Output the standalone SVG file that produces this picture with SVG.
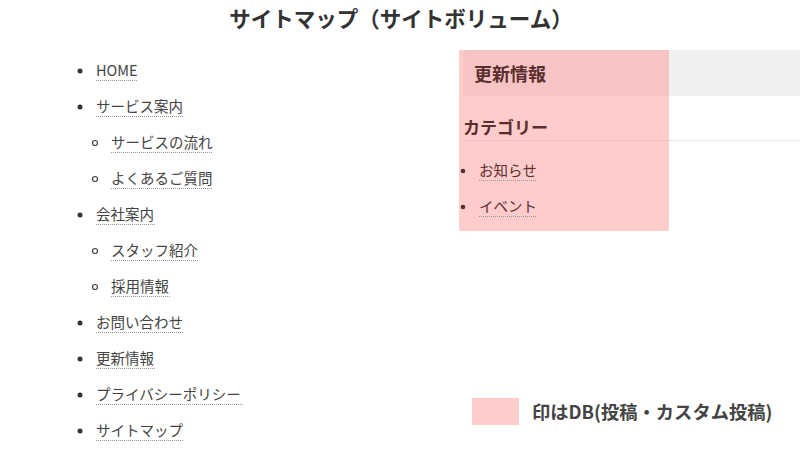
<svg xmlns="http://www.w3.org/2000/svg" width="800" height="450" viewBox="0 0 800 450">
<style>
text{font-family:"Noto Sans CJK JP","Noto Sans",sans-serif;}
.title{font-size:21.5px;font-weight:bold;fill:#333;}
.li{font-size:14.5px;fill:#444;}
.ul{stroke:#999;stroke-width:1;stroke-dasharray:1 1;}
.dot{fill:#333;}
.circ{fill:none;stroke:#444;stroke-width:1.2;}
.rh{font-weight:bold;fill:#5a2e2e;}
.rl{font-size:14.5px;fill:#5a2e2e;}
.leg{font-size:18.3px;font-weight:bold;fill:#444;}
</style>
<rect width="800" height="450" fill="#fff"/>
<text class="title" x="401" y="27" text-anchor="middle">サイトマップ（サイトボリューム）</text>

<g id="sitemap-list">
<g id="item-home"><circle class="dot" cx="80" cy="71" r="2.5"/><text class="li" x="96" y="76">HOME</text><line class="ul" x1="96" y1="80.5" x2="138" y2="80.5"/></g>
<g id="item-service"><circle class="dot" cx="80" cy="107" r="2.5"/><text class="li" x="96" y="112">サービス案内</text><line class="ul" x1="96" y1="116.5" x2="184" y2="116.5"/></g>
<g id="item-flow"><circle class="circ" cx="95" cy="143" r="2.5"/><text class="li" x="111" y="148">サービスの流れ</text><line class="ul" x1="111" y1="152.5" x2="213" y2="152.5"/></g>
<g id="item-faq"><circle class="circ" cx="95" cy="179" r="2.5"/><text class="li" x="111" y="184">よくあるご質問</text><line class="ul" x1="111" y1="188.5" x2="213" y2="188.5"/></g>
<g id="item-company"><circle class="dot" cx="80" cy="215" r="2.5"/><text class="li" x="96" y="220">会社案内</text><line class="ul" x1="96" y1="224.5" x2="155" y2="224.5"/></g>
<g id="item-staff"><circle class="circ" cx="95" cy="251" r="2.5"/><text class="li" x="111" y="256">スタッフ紹介</text><line class="ul" x1="111" y1="260.5" x2="198" y2="260.5"/></g>
<g id="item-recruit"><circle class="circ" cx="95" cy="287" r="2.5"/><text class="li" x="111" y="292">採用情報</text><line class="ul" x1="111" y1="296.5" x2="170" y2="296.5"/></g>
<g id="item-contact"><circle class="dot" cx="80" cy="323" r="2.5"/><text class="li" x="96" y="328">お問い合わせ</text><line class="ul" x1="96" y1="332.5" x2="184" y2="332.5"/></g>
<g id="item-news"><circle class="dot" cx="80" cy="359" r="2.5"/><text class="li" x="96" y="364">更新情報</text><line class="ul" x1="96" y1="368.5" x2="155" y2="368.5"/></g>
<g id="item-privacy"><circle class="dot" cx="80" cy="395" r="2.5"/><text class="li" x="96" y="400">プライバシーポリシー</text><line class="ul" x1="96" y1="404.5" x2="243" y2="404.5"/></g>
<g id="item-sitemap"><circle class="dot" cx="80" cy="431" r="2.5"/><text class="li" x="96" y="436">サイトマップ</text><line class="ul" x1="96" y1="440.5" x2="184" y2="440.5"/></g>
</g>

<g id="sidebar">
<rect x="463" y="50" width="345" height="46" rx="5" fill="#efefef"/>
<line x1="463" y1="140.5" x2="800" y2="140.5" stroke="#e6e6e6" stroke-width="1"/>
<rect id="db-overlay" x="459" y="50" width="210" height="181" fill="#ff9999" fill-opacity="0.5"/>
<text class="rh" x="474" y="81" font-size="18">更新情報</text>
<text class="rh" x="463" y="134" font-size="17">カテゴリー</text>
<g id="cat-news"><circle cx="463" cy="171" r="2.3" fill="#5a2e2e"/><text class="rl" x="479" y="176">お知らせ</text><line class="ul" x1="479" y1="180.5" x2="536" y2="180.5"/></g>
<g id="cat-event"><circle cx="463" cy="207" r="2.3" fill="#5a2e2e"/><text class="rl" x="479" y="212">イベント</text><line class="ul" x1="479" y1="216.5" x2="536" y2="216.5"/></g>
</g>

<g id="legend">
<rect x="472" y="398" width="47" height="27" fill="#ffcccc"/>
<text class="leg" x="532" y="419">印はDB(投稿・カスタム投稿)</text>
</g>
</svg>
